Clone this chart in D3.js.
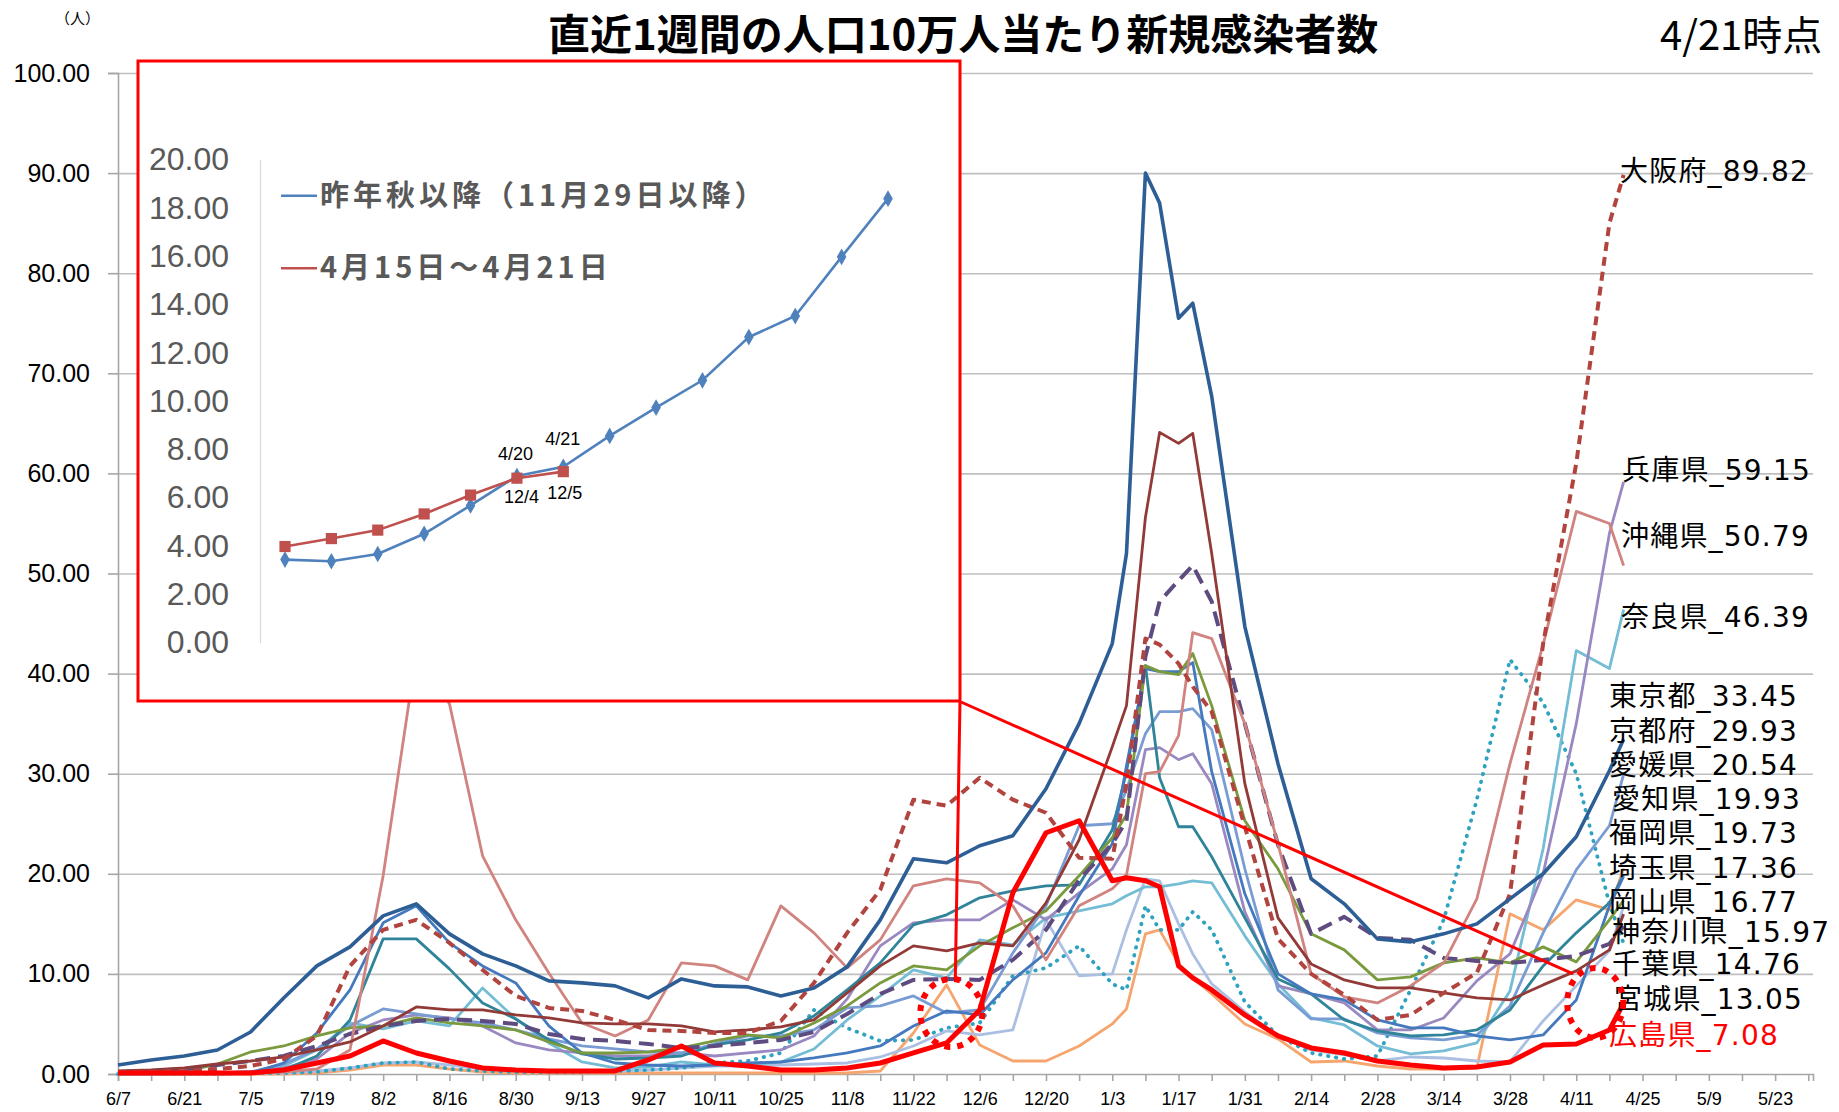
<!DOCTYPE html>
<html>
<head>
<meta charset="utf-8">
<script src="https://cdn.jsdelivr.net/npm/d3@7"></script>
<style>
body { margin: 0; background: #fff; }
svg { display: block; }
</style>
</head>
<body>
<div id="chart"></div>
<script>
const width = 1839
const height = 1112
const margin = {top: 73, bottom: 38, left: 118, right: 26}

// 日付（週ごと + 1月ピーク付近）
const dates = ["6/7","6/14","6/21","6/28","7/5","7/12","7/19","7/26","8/2","8/9",
  "8/16","8/23","8/30","9/6","9/13","9/20","9/27","10/4","10/11","10/18",
  "10/25","11/1","11/8","11/15","11/22","11/29","12/6","12/13","12/20","12/27",
  "1/3","1/6","1/10","1/13","1/17","1/20","1/24","1/31","2/7","2/14",
  "2/21","2/28","3/7","3/14","3/21","3/28","4/4","4/11","4/18","4/21"]

const tokyo = [0.9,1.4,1.8,2.4,4.2,7.6,10.8,12.7,15.8,17.0,
  14.0,12.0,10.8,9.3,9.1,8.8,7.6,9.5,8.8,8.7,
  7.8,8.6,10.7,15.4,21.5,21.1,22.8,23.8,28.5,35.0,
  43.0,52.0,90.0,87.0,75.5,77.0,67.7,44.7,31.0,19.5,
  17.0,13.5,13.2,14.0,15.0,17.5,20.0,23.7,30.3,33.45]
const osaka = [0.2,0.2,0.3,0.5,0.8,1.5,3.8,10.8,14.4,15.4,
  13.1,10.4,7.8,6.6,6.3,5.4,4.4,4.3,4.1,4.1,
  5.3,9.1,14.1,18.4,27.4,26.8,29.6,27.4,26.1,21.6,
  21.5,29.0,43.5,42.9,41.0,38.7,36.2,24.7,13.5,10.0,
  7.9,5.4,5.9,8.1,10.1,18.0,43.0,61.0,85.0,89.82]
const hiroshima = [0.1,0.1,0.1,0.1,0.1,0.4,1.1,1.8,3.3,2.1,
  1.3,0.6,0.4,0.3,0.3,0.3,1.4,2.8,1.1,0.8,
  0.4,0.4,0.6,1.1,2.1,3.1,6.4,18.1,24.1,25.3,
  19.3,19.6,19.3,18.7,10.8,9.6,8.4,5.9,3.8,2.6,
  2.1,1.3,0.9,0.6,0.7,1.2,2.9,3.0,4.4,7.08]
const okinawa = [0.0,0.0,0.0,0.0,0.1,0.2,0.5,2.4,19.8,42.0,
  37.0,21.8,15.4,10.1,5.1,3.8,5.4,11.1,10.8,9.4,
  16.8,14.1,10.6,13.4,18.8,19.5,19.1,16.8,11.4,16.8,
  18.5,19.9,30.0,30.2,33.8,44.1,43.5,35.0,23.0,10.0,
  7.7,7.1,8.8,11.1,17.5,31.0,42.9,56.2,55.0,50.79]
const hyogo = [0.1,0.1,0.1,0.1,0.2,0.6,1.5,4.1,5.4,5.9,
  5.6,4.8,3.1,2.4,2.1,1.8,1.8,2.1,1.8,2.1,
  2.4,3.8,7.5,12.8,15.1,15.4,15.4,17.4,15.4,18.1,
  20.5,22.9,32.4,32.6,31.4,32.0,29.0,16.2,8.8,8.0,
  7.1,4.4,4.4,5.6,9.3,12.0,20.0,35.0,54.0,59.15]
const nara = [0.0,0.0,0.0,0.1,0.2,0.8,2.4,5.1,4.5,5.3,
  4.8,8.6,5.5,3.1,1.2,0.6,0.7,1.2,0.9,0.9,
  1.2,2.5,5.4,7.8,10.4,9.6,13.4,12.9,15.6,16.3,
  17.0,17.8,18.7,18.7,19.0,19.3,19.1,13.8,9.0,5.6,
  4.9,2.8,2.0,2.3,3.1,8.3,22.5,42.3,40.5,46.39]
const kyoto = [0.0,0.0,0.1,0.1,0.2,1.0,2.5,4.8,6.5,6.0,
  5.5,5.1,4.4,3.5,2.8,2.5,2.2,2.1,3.0,3.8,
  3.8,4.4,6.6,6.8,7.8,6.1,6.4,12.1,16.8,24.8,
  25.0,28.4,34.0,36.2,36.2,36.5,34.4,20.5,8.4,5.5,
  5.5,4.1,3.6,3.4,3.9,6.8,14.1,20.4,24.8,29.93]
const ehime = [0.0,0.0,0.0,0.0,0.0,0.0,0.1,0.4,0.9,0.9,
  0.5,0.2,0.1,0.1,0.1,0.1,0.1,0.1,0.1,0.1,
  0.1,0.1,0.1,0.3,4.1,8.9,2.9,1.3,1.3,2.8,
  5.0,6.5,14.0,14.4,11.0,9.6,8.0,5.0,3.5,1.2,
  1.3,0.8,0.5,0.5,0.6,16.0,14.4,17.4,16.4,20.54]
const aichi = [0.1,0.1,0.1,0.1,0.2,0.4,1.8,5.4,13.5,13.5,
  10.5,7.1,5.5,3.4,2.0,1.5,1.6,1.8,2.9,3.4,
  4.1,5.8,8.4,11.1,14.9,15.9,17.6,18.3,18.8,18.9,
  24.4,30.2,40.8,29.6,24.7,24.7,21.7,15.6,9.5,8.0,
  5.4,4.3,3.8,3.9,4.4,6.4,10.8,14.1,17.1,19.93]
const fukuoka = [0.1,0.1,0.1,0.1,0.1,1.1,4.1,8.4,15.1,16.8,
  13.1,10.8,9.1,4.8,2.1,1.1,0.9,0.8,0.9,1.1,
  1.2,1.6,2.1,2.8,4.8,6.3,5.9,9.4,12.1,17.8,
  23.0,30.8,40.5,40.2,40.2,41.1,30.2,18.0,10.0,8.0,
  7.4,5.4,4.6,4.6,3.8,3.4,3.9,7.4,16.8,19.73]
const saitama = [0.2,0.2,0.2,1.0,2.2,2.8,3.8,4.6,4.8,5.6,
  5.1,4.8,4.4,3.2,2.1,2.1,2.2,2.6,3.3,3.9,
  3.6,5.1,6.8,9.1,10.8,10.4,12.8,14.6,16.3,19.8,
  23.6,25.9,40.8,40.2,39.9,42.0,36.8,25.3,20.5,14.0,
  12.4,9.4,9.7,11.1,11.6,11.1,12.7,11.2,15.4,17.36]
const okayama = [0.0,0.0,0.0,0.0,0.1,0.1,0.3,0.6,1.1,1.2,
  0.9,0.5,0.3,0.3,0.3,0.3,0.4,0.6,0.8,0.8,
  0.9,1.0,1.1,1.7,2.8,4.3,3.9,4.4,15.4,9.8,
  10.0,14.4,19.5,19.3,15.0,12.0,9.0,6.2,3.8,2.4,
  1.9,1.3,1.7,1.6,1.3,1.2,5.3,8.8,12.3,16.77]
const kanagawa = [0.3,0.4,0.6,1.0,1.3,1.7,2.4,3.2,4.8,6.7,
  6.4,6.4,5.9,5.6,5.1,5.0,5.0,4.8,4.2,4.4,
  4.7,5.4,8.1,10.8,12.8,12.3,13.1,12.8,17.1,23.4,
  32.7,36.8,55.6,64.1,63.0,64.0,52.0,29.0,15.6,11.0,
  9.4,8.6,8.6,8.1,7.6,7.4,8.9,10.3,12.4,15.97]
const chiba = [0.2,0.3,0.5,0.9,1.3,1.8,2.8,4.0,4.8,5.3,
  5.5,5.3,5.0,4.0,3.5,3.3,3.0,2.6,2.8,3.1,
  3.4,4.2,6.0,8.0,9.4,9.5,9.4,11.4,14.4,19.4,
  23.0,25.3,41.7,47.2,49.3,50.8,47.2,35.0,22.9,14.0,
  15.7,13.6,13.4,11.6,11.3,11.1,11.4,11.8,13.0,14.76]
const miyagi = [0.0,0.0,0.0,0.0,0.1,0.1,0.2,0.6,1.1,1.2,
  0.5,0.3,0.2,0.2,0.2,0.3,0.4,0.6,1.1,1.3,
  2.1,6.4,4.6,3.3,3.4,4.6,5.1,9.8,10.6,12.8,
  9.0,8.4,16.8,14.4,14.4,16.2,14.4,7.2,3.8,2.1,
  1.5,1.8,8.4,15.4,27.4,41.4,37.1,30.0,17.0,13.05]

const xTickLabels = ["6/7","6/21","7/5","7/19","8/2","8/16","8/30","9/13","9/27","10/11","10/25","11/8",
  "11/22","12/6","12/20","1/3","1/17","1/31","2/14","2/28","3/14","3/28","4/11","4/25","5/9","5/23"]
const yTicks = [0,10,20,30,40,50,60,70,80,90,100]

// 挿入図：広島県
const insetBlue = [3.44,3.37,3.67,4.51,5.68,6.90,7.28,8.56,9.73,10.86,12.65,13.52,15.97,18.38]
const insetRed = [3.98,4.31,4.66,5.33,6.11,6.81,7.08]
const insetTicks = [0,2,4,6,8,10,12,14,16,18,20]
const insetNotes = [
  {i: 5, v: 7.83, text: "4/20", dx: -19},
  {i: 6, v: 8.42, text: "4/21", dx: -18},
  {i: 5, v: 6.03, text: "12/4", dx: -13},
  {i: 6, v: 6.20, text: "12/5", dx: -16}
]

const parseMD = s => {
  const [m, d] = s.split("/").map(Number)
  return new Date(m >= 6 ? 2020 : 2021, m - 1, d)
}
const dateObjs = dates.map(parseMD)

// 系列の描画設定（順番 = 描画順）
const series = [
  {name: "愛媛県", values: ehime, color: "#F6A56E", w: 2.8, ly: 775},
  {name: "岡山県", values: okayama, color: "#AABFE2", w: 2.8, ly: 912},
  {name: "宮城県", values: miyagi, color: "#2FA2BF", w: 3.8, dash: "0.5 7.5", cap: "round", ly: 1009},
  {name: "奈良県", values: nara, color: "#74BDD5", w: 2.8, ly: 627},
  {name: "兵庫県", values: hyogo, color: "#9A88C1", w: 2.8, ly: 480},
  {name: "京都府", values: kyoto, color: "#789CD3", w: 2.8, ly: 741},
  {name: "愛知県", values: aichi, color: "#2F8499", w: 2.8, ly: 809},
  {name: "福岡県", values: fukuoka, color: "#4479BE", w: 2.8, ly: 843},
  {name: "埼玉県", values: saitama, color: "#7A9A3E", w: 2.8, ly: 878},
  {name: "千葉県", values: chiba, color: "#5E4B80", w: 4, dash: "15 8", ly: 974},
  {name: "沖縄県", values: okinawa, color: "#D0837F", w: 2.8, ly: 546},
  {name: "神奈川県", values: kanagawa, color: "#923A37", w: 2.8, ly: 942},
  {name: "大阪府", values: osaka, color: "#B2443F", w: 4, dash: "9 6", ly: 181},
  {name: "東京都", values: tokyo, color: "#2D5E95", w: 3.6, ly: 706},
  {name: "広島県", values: hiroshima, color: "#FF0000", w: 5, ly: 1045, labelColor: "#FF0000"}
]
const labelX = {"大阪府": 1620, "兵庫県": 1622, "沖縄県": 1621, "奈良県": 1621, "神奈川県": 1612,
  "愛知県": 1612, "千葉県": 1612, "宮城県": 1614}

const svg = d3.select("#chart")
  .append("svg")
  .attr("width", width)
  .attr("height", height)
  .style("font-family", "'Liberation Sans', Arial, sans-serif")

svg.append("rect").attr("width", width).attr("height", height).attr("fill", "#fff")

const x = d3.scaleTime()
  .domain([parseMD("6/7"), parseMD("5/31")])
  .range([margin.left, width - margin.right])
const y = d3.scaleLinear()
  .domain([0, 100])
  .range([height - margin.bottom, margin.top])

// グリッド
svg.append("g")
  .attr("transform", `translate(${margin.left},0)`)
  .call(d3.axisLeft(y).tickValues(yTicks.filter(d => d > 0)).tickSize(-(width - margin.right - margin.left)).tickFormat(""))
  .call(g => g.select(".domain").remove())
  .selectAll("line").attr("stroke", "#BFBFBF").attr("stroke-width", 1.6)

// y軸
const yAxisGroup = svg.append("g")
  .attr("transform", `translate(${margin.left},0)`)
  .call(d3.axisLeft(y).tickValues(yTicks).tickFormat(d3.format(".2f")).tickSize(10).tickPadding(18))
yAxisGroup.select(".domain").attr("stroke", "#A6A6A6").attr("stroke-width", 1.6)
yAxisGroup.selectAll("line").attr("stroke", "#A6A6A6").attr("stroke-width", 1.6)
yAxisGroup.selectAll("text").attr("font-size", 25).attr("fill", "#000")
  .attr("font-family", "'Liberation Sans', Arial, sans-serif")

// x軸
const labelMap = new Map(xTickLabels.map(s => [+parseMD(s), s]))
const xAxisGroup = svg.append("g")
  .attr("transform", `translate(0,${height - margin.bottom})`)
  .call(d3.axisBottom(x)
    .tickValues(d3.timeWeek.range(parseMD("6/7"), parseMD("5/31")))
    .tickFormat(d => labelMap.get(+d) || "")
    .tickSize(7).tickPadding(11))
xAxisGroup.select(".domain").attr("stroke", "#A6A6A6").attr("stroke-width", 1.6)
xAxisGroup.selectAll("line").attr("stroke", "#A6A6A6").attr("stroke-width", 1.6)
xAxisGroup.selectAll("text").attr("font-size", 18).attr("fill", "#000")
  .attr("font-family", "'Liberation Sans', Arial, sans-serif")

// 折れ線
const line = d3.line()
  .x((d, i) => x(dateObjs[i]))
  .y(d => y(d))

const lineGroup = svg.append("g").attr("id", "lines")
lineGroup.selectAll("path")
  .data(series)
  .join("path")
    .attr("d", d => line(d.values))
    .attr("fill", "none")
    .attr("stroke", d => d.color)
    .attr("stroke-width", d => d.w)
    .attr("stroke-dasharray", d => d.dash || null)
    .attr("stroke-linecap", d => d.cap || "butt")
    .attr("stroke-linejoin", "round")

// 右側ラベル
svg.append("g").selectAll("text")
  .data(series)
  .join("text")
    .attr("x", d => labelX[d.name] || 1609)
    .attr("y", d => d.ly)
    .attr("font-size", 28)
    .attr("letter-spacing", 1.2)
    .attr("font-family", "'DejaVu Sans', 'Noto Sans CJK JP', sans-serif")
    .attr("fill", d => d.labelColor || "#000")
    .text(d => d.name + "_" + d.values[d.values.length - 1].toFixed(2))

// タイトル
svg.append("text")
  .attr("x", 548).attr("y", 50)
  .attr("font-size", 42).attr("font-weight", "bold")
  .attr("font-family", "'Noto Sans CJK JP', sans-serif")
  .text("直近1週間の人口10万人当たり新規感染者数")
svg.append("text")
  .attr("x", 1660).attr("y", 50)
  .attr("font-size", 40)
  .attr("font-family", "'Noto Sans CJK JP', sans-serif")
  .text("4/21時点")
svg.append("text")
  .attr("x", 55).attr("y", 24)
  .attr("font-size", 15)
  .attr("font-family", "'Noto Sans CJK JP', sans-serif")
  .text("（人）")

// 挿入図
const box = {x0: 138, y0: 61, x1: 960, y1: 701}
const inset = svg.append("g").attr("id", "inset")
inset.append("rect")
  .attr("x", box.x0).attr("y", box.y0)
  .attr("width", box.x1 - box.x0).attr("height", box.y1 - box.y0)
  .attr("fill", "#fff").attr("stroke", "#FF0000").attr("stroke-width", 3)

const ix = d3.scalePoint().domain(d3.range(insetBlue.length)).range([285, 888])
const iy = d3.scaleLinear().domain([0, 20]).range([642.7, 159.5])

const iAxis = inset.append("g")
  .attr("transform", "translate(260,0)")
  .call(d3.axisLeft(iy).tickValues(insetTicks).tickFormat(d3.format(".2f")).tickSize(0).tickPadding(31))
iAxis.select(".domain").attr("stroke", "#D9D9D9").attr("stroke-width", 1.2)
iAxis.selectAll("text").attr("font-size", 32).attr("fill", "#595959")
  .attr("font-family", "'Liberation Sans', Arial, sans-serif")

const iline = d3.line().x((d, i) => ix(i)).y(d => iy(d))
inset.append("path").attr("d", iline(insetBlue))
  .attr("fill", "none").attr("stroke", "#4F81BD").attr("stroke-width", 2.6)
inset.append("path").attr("d", iline(insetRed))
  .attr("fill", "none").attr("stroke", "#C0504D").attr("stroke-width", 2.6)

const diamond = d3.symbol().type(d3.symbolDiamond).size(80)
const square = d3.symbol().type(d3.symbolSquare).size(125)
inset.selectAll(".bpt").data(insetBlue).join("path").attr("class", "bpt")
  .attr("d", diamond).attr("fill", "#4F81BD")
  .attr("transform", (d, i) => `translate(${ix(i)},${iy(d)})`)
inset.selectAll(".rpt").data(insetRed).join("path").attr("class", "rpt")
  .attr("d", square).attr("fill", "#C0504D")
  .attr("transform", (d, i) => `translate(${ix(i)},${iy(d)})`)

inset.selectAll(".note").data(insetNotes).join("text").attr("class", "note")
  .attr("x", d => ix(d.i) + d.dx).attr("y", d => iy(d.v) + 6)
  .attr("font-size", 18).attr("fill", "#000")
  .text(d => d.text)

// 挿入図凡例
const legend = [
  {text: "昨年秋以降（11月29日以降）", color: "#4F81BD", sym: diamond, v: 18.5},
  {text: "4月15日～4月21日", color: "#C0504D", sym: square, v: 15.5}
]
const lg = inset.selectAll(".lg").data(legend).join("g").attr("class", "lg")
  .attr("transform", d => `translate(281,${iy(d.v)})`)
lg.append("line").attr("x1", 0).attr("x2", 36).attr("stroke", d => d.color).attr("stroke-width", 2.6)
lg.append("path").attr("d", d => d.sym).attr("fill", d => d.color).attr("transform", "translate(18,0)")
lg.append("text").attr("x", 39).attr("y", 10)
  .attr("font-size", 29).attr("font-weight", "bold").attr("letter-spacing", 4)
  .attr("font-family", "'Noto Sans CJK JP', sans-serif")
  .attr("fill", "#595959")
  .text(d => d.text)

// 引き出し線と点線の丸
const circles = [
  {date: "11/30", v: 6.1, rx: 31, ry: 34},
  {date: "4/15", v: 7.1, rx: 28, ry: 35}
]
svg.selectAll(".ring").data(circles).join("ellipse").attr("class", "ring")
  .attr("cx", d => x(parseMD(d.date))).attr("cy", d => y(d.v))
  .attr("rx", d => d.rx).attr("ry", d => d.ry)
  .attr("fill", "none").attr("stroke", "#FF0000").attr("stroke-width", 6)
  .attr("stroke-dasharray", "6 7")

const c0 = circles[0], c1 = circles[1]
svg.append("line")
  .attr("x1", box.x1).attr("y1", box.y1)
  .attr("x2", x(parseMD(c0.date)) + 4).attr("y2", y(c0.v) - c0.ry)
  .attr("stroke", "#FF0000").attr("stroke-width", 3)
svg.append("line")
  .attr("x1", box.x1 + 1).attr("y1", box.y1 + 1)
  .attr("x2", x(parseMD(c1.date)) - 22).attr("y2", y(c1.v) - c1.ry + 6)
  .attr("stroke", "#FF0000").attr("stroke-width", 3)
</script>
</body>
</html>
